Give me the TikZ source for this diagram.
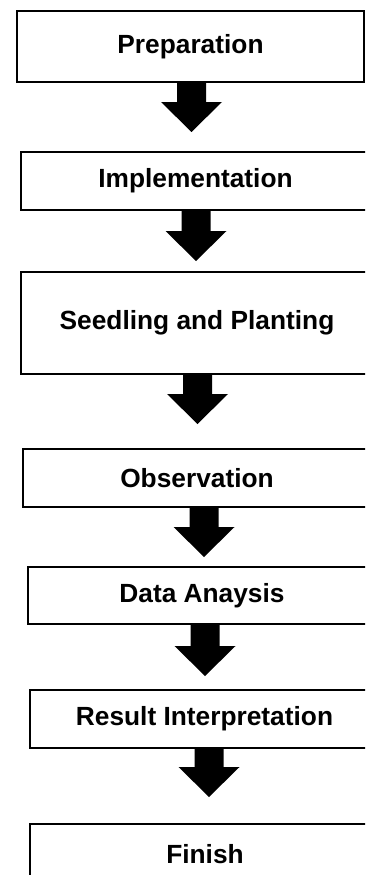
\documentclass[tikz,border=0pt]{standalone}
\usepackage{fontspec}
\setmainfont{Liberation Sans}
\usetikzlibrary{calc}

\begin{document}
\begin{tikzpicture}[
x=1pt,y=-1pt,
stage/.style={
  draw,
  line width=2pt,
  rectangle,
  anchor=north west,
  inner sep=0pt,
  font=\fontsize{26.3}{30}\selectfont\bfseries
  },
bigarrow/.style={
  draw=none,
  fill=black,
  to path={
    let \p1=(\tikztostart), \p2=(\tikztotarget) in
    (\x1-14.5pt,\y1) -- (\x1+14.5pt,\y1) -- (\x1+14.5pt,\y2+30pt)
    -- (\x1+30.5pt,\y2+30pt) -- (\p2) -- (\x1-30.5pt,\y2+30pt)
    -- (\x1-14.5pt,\y2+30pt) -- cycle
    }
  }
]
\useasboundingbox (0,0) rectangle (365,875);
\clip (0,0) rectangle (365,875);

\node[stage, minimum width=347pt, minimum height=71pt] (prep) at (16,10) {Preparation};
\node[stage, minimum width=349pt, minimum height=58pt] (impl) at (20,151) {Implementation};
\node[stage, minimum width=352pt, minimum height=102pt] (seed) at (20,271) {Seedling and Planting};
\node[stage, minimum width=348pt, minimum height=58pt] (obs) at (22,448) {Observation};
\node[stage, minimum width=348pt, minimum height=57pt] (data) at (27,566) {Data Anaysis};
\node[stage, minimum width=349pt, minimum height=58pt] (res) at (29,689) {Result Interpretation};
\node[stage, minimum width=350pt, minimum height=60pt] (fin) at (29,823) {Finish};

% arrow tips stop short of the next box
\coordinate (t1) at (191.5,132);
\coordinate (t2) at (196,261);
\coordinate (t3) at (197.5,424);
\coordinate (t4) at (204,557);
\coordinate (t5) at (205,676);
\coordinate (t6) at (209,797);

\draw[bigarrow] (prep.south -| t1) to (t1);
\draw[bigarrow] (impl.south -| t2) to (t2);
\draw[bigarrow] (seed.south -| t3) to (t3);
\draw[bigarrow] (obs.south -| t4) to (t4);
\draw[bigarrow] (data.south -| t5) to (t5);
\draw[bigarrow] (res.south -| t6) to (t6);

\end{tikzpicture}
\end{document}
